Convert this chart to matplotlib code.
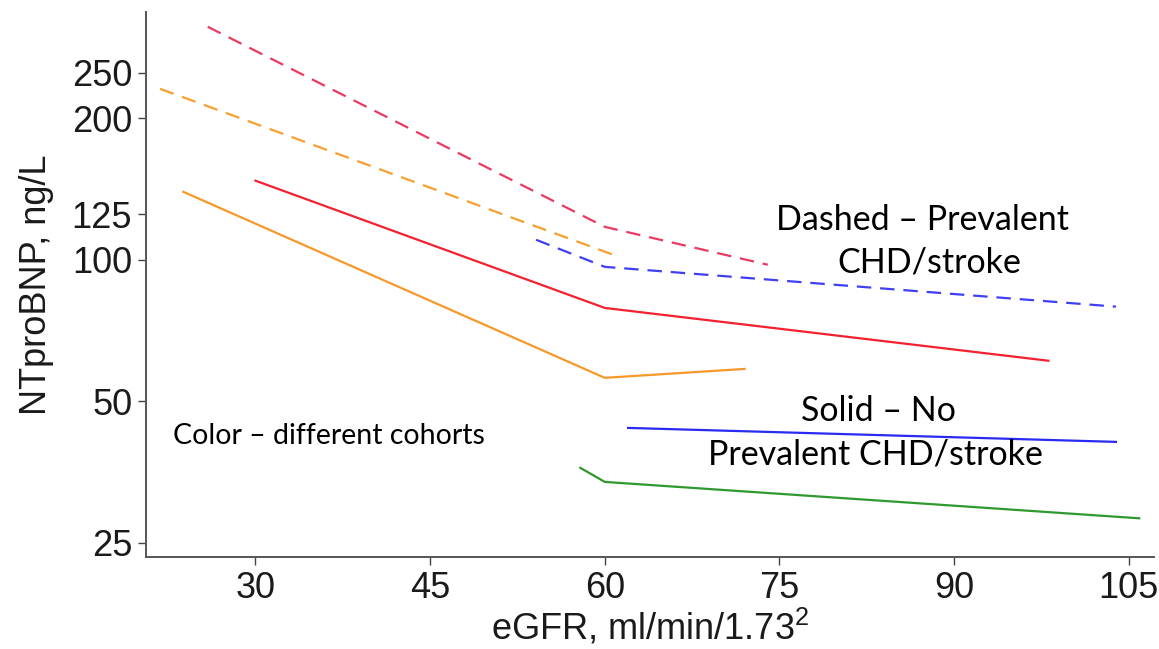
import numpy as np
import matplotlib
matplotlib.use("Agg")
import matplotlib.pyplot as plt

plt.rcParams['font.family'] = ['Liberation Sans', 'DejaVu Sans']
plt.rcParams['mathtext.fontset'] = 'custom'
plt.rcParams['mathtext.rm'] = 'Liberation Sans'
plt.rcParams['mathtext.it'] = 'Liberation Sans'

# eGFR (x) and NTproBNP (y) per cohort, dashed = prevalent CHD/stroke
red_dash_x = [25.9, 60, 74.0]
red_dash_y = [313, 117.5, 97.6]

orange_dash_x = [21.8, 61.2]
orange_dash_y = [231, 101.5]

blue_dash_x = [54.1, 60, 103.9]
blue_dash_y = [110.3, 96.6, 79.5]

red_solid_x = [30, 60, 98.1]
red_solid_y = [147.3, 79.0, 61.0]

orange_solid_x = [23.8, 60, 72.0]
orange_solid_y = [139.5, 56.1, 58.6]

blue_solid_x = [62.0, 103.9]
blue_solid_y = [43.9, 41.0]

green_solid_x = [57.9, 60, 105.9]
green_solid_y = [36.1, 33.7, 28.2]

xticks = [30, 45, 60, 75, 90, 105]
yticks = [25, 50, 100, 125, 200, 250]

fig = plt.figure(figsize=(11.59, 6.49), dpi=100)
ax = fig.add_axes([0.126, 0.142, 0.870, 0.840])

lw = 1.6
dash = (6.5, 4)
ax.plot(red_dash_x, red_dash_y, color='#e83a62', lw=lw, dashes=dash)
ax.plot(orange_dash_x, orange_dash_y, color='#f5a030', lw=lw, dashes=dash)
ax.plot(blue_dash_x, blue_dash_y, color='#3f3ff5', lw=lw, dashes=dash)
ax.plot(red_solid_x, red_solid_y, color='#f52030', lw=lw)
ax.plot(orange_solid_x, orange_solid_y, color='#f7992a', lw=lw)
ax.plot(blue_solid_x, blue_solid_y, color='#2a2af5', lw=lw)
ax.plot(green_solid_x, green_solid_y, color='#2e9a2e', lw=lw)

ax.set_yscale('log')
ax.set_xlim(20.6, 107.2)
ax.set_ylim(23.35, 337)
ax.set_xticks(xticks)
ax.set_xticklabels([str(t) for t in xticks])
ax.set_yticks(yticks)
ax.set_yticklabels([str(t) for t in yticks])
ax.yaxis.set_minor_locator(matplotlib.ticker.NullLocator())
ax.tick_params(axis='both', labelsize=26, direction='out', length=6,
               width=1, color='#444444', labelcolor='#1a1a1a', pad=4)

for side in ['top', 'right']:
    ax.spines[side].set_visible(False)
for side in ['left', 'bottom']:
    ax.spines[side].set_color('#555555')
    ax.spines[side].set_linewidth(1.4)

ax.set_xlabel(r'eGFR, ml/min/1.73$^2$', fontsize=26, color='#1a1a1a', labelpad=1)
ax.set_ylabel('NTproBNP, ng/L', fontsize=26, color='#1a1a1a', labelpad=13)

note = dict(family=['Lato', 'DejaVu Sans'], color='black', ha='center', va='center',
            transform=fig.transFigure)
fig.text(922 / 1159, 1 - 220 / 649, 'Dashed \u2013 Prevalent', fontsize=24.5, **note)
fig.text(929 / 1159, 1 - 263 / 649, 'CHD/stroke', fontsize=24.5, **note)
fig.text(878 / 1159, 1 - 411 / 649, 'Solid \u2013 No', fontsize=24.5, **note)
fig.text(875 / 1159, 1 - 455 / 649, 'Prevalent CHD/stroke', fontsize=24.5, **note)
fig.text(173 / 1159, 1 - 436 / 649, 'Color \u2013 different cohorts', fontsize=20.5,
         family=['Lato', 'DejaVu Sans'], color='black', ha='left', va='center')

fig.savefig('out.png', dpi=100, facecolor='white')
